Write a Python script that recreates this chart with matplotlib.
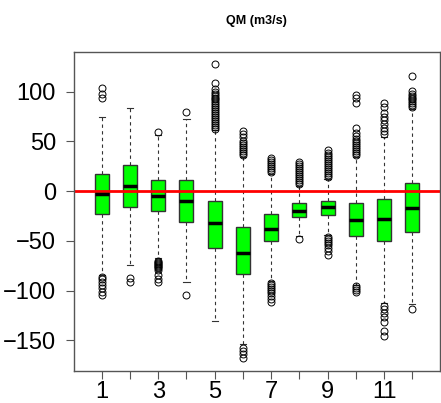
import matplotlib
matplotlib.use("Agg")
import matplotlib.pyplot as plt

plt.rcParams['font.family'] = ['Liberation Sans', 'DejaVu Sans']

months = list(range(1, 13))
q1 = [-23, -16, -20, -31, -57, -83, -50, -26, -24, -45, -50, -41]
med = [-3, 5, -5, -10, -32, -62, -38, -20, -16, -29, -28, -17]
q3 = [17, 26, 11, 11, -10, -36, -23, -12, -10, -12, -8, 8]
whislo = [-84, -74, -67, -91, -130, -154, -90, -45, -44, -94, -112, -113]
whishi = [74, 83, 56, 72, 61, 34, 17, 5, 12, 34, 54, 82]
fliers = [
    [93, 98, 104, -86, -88, -91, -94, -97, -101, -104],
    [-87, -91],
    [59, -70, -71, -72, -73, -74, -75, -76, -77, -79, -84, -88, -91],
    [79, -104],
    [62, 64, 66, 68, 70, 72, 74, 76, 78, 80, 82, 84, 86, 88, 90, 92, 94, 96,
     98, 100, 103, 109, 128],
    [36, 38, 40, 42, 44, 46, 48, 50, 54, 57, 60, -158, -161, -164, -168],
    [19, 21, 23, 25, 27, 29, 31, 33, -92, -94, -96, -98, -100, -102, -105,
     -108, -111],
    [7, 9, 11, 13, 15, 17, 19, 21, 23, 25, 27, 29, -48],
    [14, 16, 18, 20, 22, 24, 26, 28, 30, 32, 34, 36, 38, 41, -46, -48, -50,
     -52, -54, -57, -60, -64],
    [36, 38, 40, 42, 44, 46, 48, 50, 52, 55, 58, 63, 88, 93, 97, -95, -97,
     -99, -101],
    [57, 60, 63, 67, 71, 74, 78, 84, 88, -115, -118, -122, -126, -131, -141,
     -146],
    [84, 86, 88, 90, 92, 94, 96, 98, 101, 116, -118],
]
xtick_labels = ['1', '', '3', '', '5', '', '7', '', '9', '', '11', '']

stats = []
for i in range(len(months)):
    stats.append(dict(med=med[i], q1=q1[i], q3=q3[i], whislo=whislo[i],
                      whishi=whishi[i], fliers=fliers[i]))

fig = plt.figure(figsize=(4.41, 4.03), dpi=100)
ax = fig.add_axes([74 / 441, 1 - 371 / 403, 366 / 441, 319 / 403])

ax.bxp(stats, positions=months, widths=0.5, patch_artist=True,
       boxprops=dict(facecolor='#00ff00', edgecolor='#333333', linewidth=1),
       medianprops=dict(color='black', linewidth=2.5),
       whiskerprops=dict(color='#333333', linewidth=0.8, linestyle=(0, (3, 3))),
       capprops=dict(color='#333333', linewidth=0.8),
       capwidths=0.22,
       flierprops=dict(marker='o', markerfacecolor='none',
                       markeredgecolor='black', markersize=5,
                       markeredgewidth=0.7))

ax.axhline(0, color='red', linewidth=2)

ax.set_xlim(0.02, 12.98)
ax.set_ylim(-180.7, 139.7)
ax.set_xticks(months)
ax.set_xticklabels(xtick_labels)
ax.set_yticks([-150, -100, -50, 0, 50, 100])
ax.tick_params(axis='both', labelsize=17, length=6, width=0.8,
               color='#555555')
ax.tick_params(axis='y', pad=7)
ax.tick_params(axis='x', pad=1)
for s in ax.spines.values():
    s.set_color('#555555')
    s.set_linewidth(1)

fig.text(256 / 441, 1 - 21 / 403, 'QM (m3/s)', ha='center', va='center',
         fontsize=9, fontweight='bold')

fig.savefig('out.png', dpi=100)
